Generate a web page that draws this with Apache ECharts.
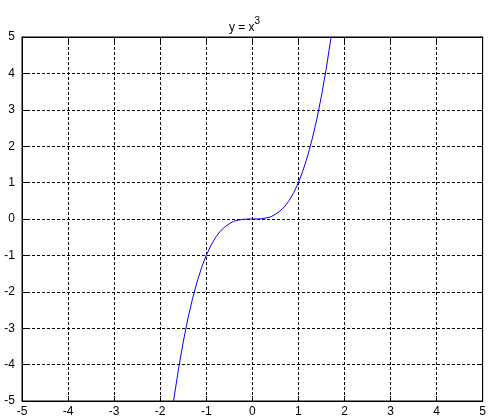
<!DOCTYPE html>
<html>
<head>
<meta charset="utf-8">
<script src="https://cdn.jsdelivr.net/npm/echarts@6/dist/echarts.min.js"></script>
<style>
  html, body { margin: 0; padding: 0; background: #fff; }
  #chart { width: 489px; height: 418px; }
</style>
</head>
<body>
<div id="chart"></div>
<script>
// Sample points of the cubic curve
var xValues = [-1.71, -1.6, -1.5, -1.4, -1.3, -1.2, -1.1, -1.0, -0.9, -0.8, -0.7, -0.6, -0.5, -0.4, -0.3, -0.2, -0.1,
               0, 0.1, 0.2, 0.3, 0.4, 0.5, 0.6, 0.7, 0.8, 0.9, 1.0, 1.1, 1.2, 1.3, 1.4, 1.5, 1.6, 1.71];
var yValues = [-5.0, -4.10, -3.38, -2.74, -2.20, -1.73, -1.33, -1.0, -0.73, -0.51, -0.34, -0.22, -0.13, -0.06, -0.03, -0.01, 0,
               0, 0, 0.01, 0.03, 0.06, 0.13, 0.22, 0.34, 0.51, 0.73, 1.0, 1.33, 1.73, 2.20, 2.74, 3.38, 4.10, 5.0];
var axisMin = -5;
var axisMax = 5;
var tickStep = 1;

var points = xValues.map(function (x, i) { return [x, yValues[i]]; });

var fontName = 'Liberation Sans, Arial, sans-serif';
var labelFont = { color: '#000', fontFamily: fontName, fontSize: 12 };
var gridDash = { show: true, lineStyle: { color: '#000', width: 1, type: [3, 2] } };

function mainAxis(position, showGrid, labelMargin) {
  return {
    type: 'value', position: position, min: axisMin, max: axisMax, interval: tickStep,
    axisLine: { show: true, onZero: false, lineStyle: { color: '#000', width: 1 } },
    axisTick: { show: true, inside: true, length: 5, lineStyle: { color: '#000' } },
    axisLabel: Object.assign({ show: showGrid, margin: labelMargin }, labelFont),
    splitLine: showGrid ? gridDash : { show: false }
  };
}

var chart = echarts.init(document.getElementById('chart'), null, { renderer: 'canvas' });
chart.setOption({
  backgroundColor: '#fff',
  animation: false,
  title: {
    text: '{a|y = x}{b|3}',
    left: 'center',
    top: 11,
    textStyle: {
      fontWeight: 'normal',
      rich: {
        a: { fontFamily: fontName, fontSize: 12, fontWeight: 'normal', color: '#000', lineHeight: 18, verticalAlign: 'bottom' },
        b: { fontFamily: fontName, fontSize: 10, fontWeight: 'normal', color: '#000', lineHeight: 18, verticalAlign: 'top', padding: [0, 0, 7, 0] }
      }
    }
  },
  grid: { left: 22, right: 4, top: 37, bottom: 17, containLabel: false, show: true, borderColor: '#000', borderWidth: 1 },
  xAxis: [ mainAxis('bottom', true, 5), mainAxis('top', false, 4) ],
  yAxis: [ mainAxis('left', true, 7), mainAxis('right', false, 4) ],
  series: [{
    type: 'line',
    data: points,
    xAxisIndex: 0,
    yAxisIndex: 0,
    showSymbol: false,
    smooth: false,
    clip: true,
    lineStyle: { color: '#0000ff', width: 1 }
  }]
});
</script>
</body>
</html>
